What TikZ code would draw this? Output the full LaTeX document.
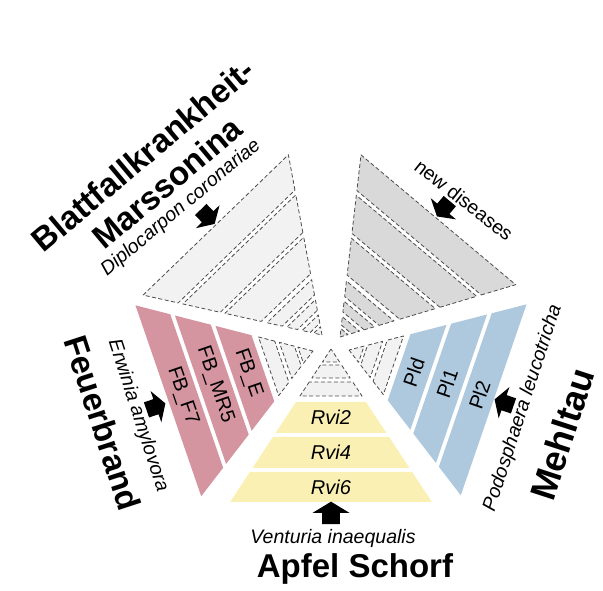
\documentclass[tikz,border=0pt]{standalone}
\usepackage{fontspec}
\setmainfont{Liberation Sans}

\definecolor{scabyellow}{RGB}{250,240,180}
\definecolor{blightred}{RGB}{212,149,160}
\definecolor{mildewblue}{RGB}{174,201,222}
\definecolor{slotlight}{RGB}{242,242,242}
\definecolor{slotdark}{RGB}{217,217,217}

% one layer of a wedge, from distance #2 to #3 off the tip
\newcommand{\band}[3][]{%
  \path[#1] (#2,{-0.66*#2}) -- (#3,{-0.66*#3}) -- (#3,{0.66*#3}) -- (#2,{0.66*#2}) -- cycle;}
% fat black arrow pointing into a wedge
\newcommand{\pusharrow}[3][1]{%
  \fill[shift={(#2)}, rotate=#3, scale=#1] (-9,-8) -- (1,-8) -- (1,-16.5) -- (11,0) -- (1,16.5) -- (1,8) -- (-9,8) -- cycle;}

\begin{document}
\begin{tikzpicture}[x=1pt, y=1pt, line join=round,
  slot/.style={draw=black!70, line width=0.8pt, dash pattern=on 4pt off 2.5pt},
  gene/.style={font=\fontsize{20}{24}\selectfont, inner sep=0pt},
  disease/.style={font=\bfseries\fontsize{33}{38}\selectfont, inner sep=0pt},
  pathogen/.style={font=\itshape\fontsize{19.5}{23}\selectfont, inner sep=0pt},
  remark/.style={font=\fontsize{19.5}{23}\selectfont, inner sep=0pt}]

  \useasboundingbox (0,0) rectangle (603,591);

  %========================
  % Apfel Schorf
  %========================
  \begin{scope}[shift={(331,242)}, rotate=-90]
    \band[slot, fill=slotlight]{0}{13}
    \band[slot, fill=slotlight]{16}{29}
    \band[slot, fill=slotlight]{33}{47}
    \band[fill=scabyellow]{53}{84}
    \band[fill=scabyellow]{88}{119}
    \band[fill=scabyellow]{123}{153}
    \node[gene] (rvi2) at (68.5,0) {\itshape Rvi2};
    \node[gene] (rvi4) at (103.5,0) {\itshape Rvi4};
    \node[gene] (rvi6) at (138,0) {\itshape Rvi6};
  \end{scope}
  \pusharrow[1.12]{331,77}{90}
  \node[pathogen, anchor=base] (venturia) at (333,47) {Venturia inaequalis};
  \node[disease, anchor=base] (scab) at (355,13) {Apfel Schorf};

  %========================
  % Mehltau
  %========================
  \begin{scope}[shift={(349,241)}, rotate=-19]
    \band[slot, fill=slotlight]{0}{13}
    \band[slot, fill=slotlight]{16}{29}
    \band[slot, fill=slotlight]{33}{47}
    \band[fill=mildewblue]{53}{84}
    \band[fill=mildewblue]{88}{119}
    \band[fill=mildewblue]{123}{153}
    \node[gene, rotate=71] (pld) at (68.5,0) {Pld};
    \node[gene, rotate=71] (pl1) at (103.5,0) {Pl1};
    \node[gene, rotate=71] (pl2) at (138,0) {Pl2};
  \end{scope}
  \pusharrow{505,188}{161}
  \node[pathogen, rotate=72] (podo) at (523,183) {Podosphaera leucotricha};
  \node[disease, rotate=72, font=\bfseries\fontsize{36}{40}\selectfont] (mildew) at (562,157) {Mehltau};

  %========================
  % Feuerbrand
  %========================
  \begin{scope}[shift={(313,240)}, rotate=199]
    \band[slot, fill=slotlight]{0}{13}
    \band[slot, fill=slotlight]{16}{29}
    \band[slot, fill=slotlight]{33}{47}
    \band[fill=blightred]{53}{84}
    \band[fill=blightred]{88}{119}
    \band[fill=blightred]{123}{153}
    \node[gene, rotate=-71] (fbe) at (68.5,0) {FB\_E};
    \node[gene, rotate=-71] (fbmr) at (103.5,0) {FB\_MR5};
    \node[gene, rotate=-71] (fbf) at (138,0) {FB\_F7};
  \end{scope}
  \pusharrow{155,184}{19}
  \node[pathogen, rotate=-72] (erwinia) at (138,175) {Erwinia amylovora};
  \node[disease, rotate=-72] (blight) at (103,168) {Feuerbrand};

  %========================
  % Blattfallkrankheit
  %========================
  \begin{scope}[shift={(322,256)}, rotate=134]
    \foreach \a/\b in {0/7, 10/17, 21/30, 34/47, 52/83, 87/119, 123/153}
      \band[slot, fill=slotlight]{\a}{\b};
  \end{scope}
  \pusharrow{207,375}{-46}
  \node[disease, rotate=40] (blatt) at (143,436) {Blattfallkrankheit-};
  \node[disease, rotate=40] (marss) at (167,408) {Marssonina};
  \node[pathogen, rotate=40] (diplo) at (181,383) {Diplocarpon coronariae};

  %========================
  % new diseases
  %========================
  \begin{scope}[shift={(340,254)}, rotate=50]
    \foreach \a/\b in {0/7, 10/17, 21/30, 34/47, 52/83, 87/119, 123/153}
      \band[slot, fill=slotdark]{\a}{\b};
  \end{scope}
  \pusharrow{444,383}{230}
  \node[remark, rotate=-38] (newdis) at (464,391) {new diseases};

\end{tikzpicture}
\end{document}
